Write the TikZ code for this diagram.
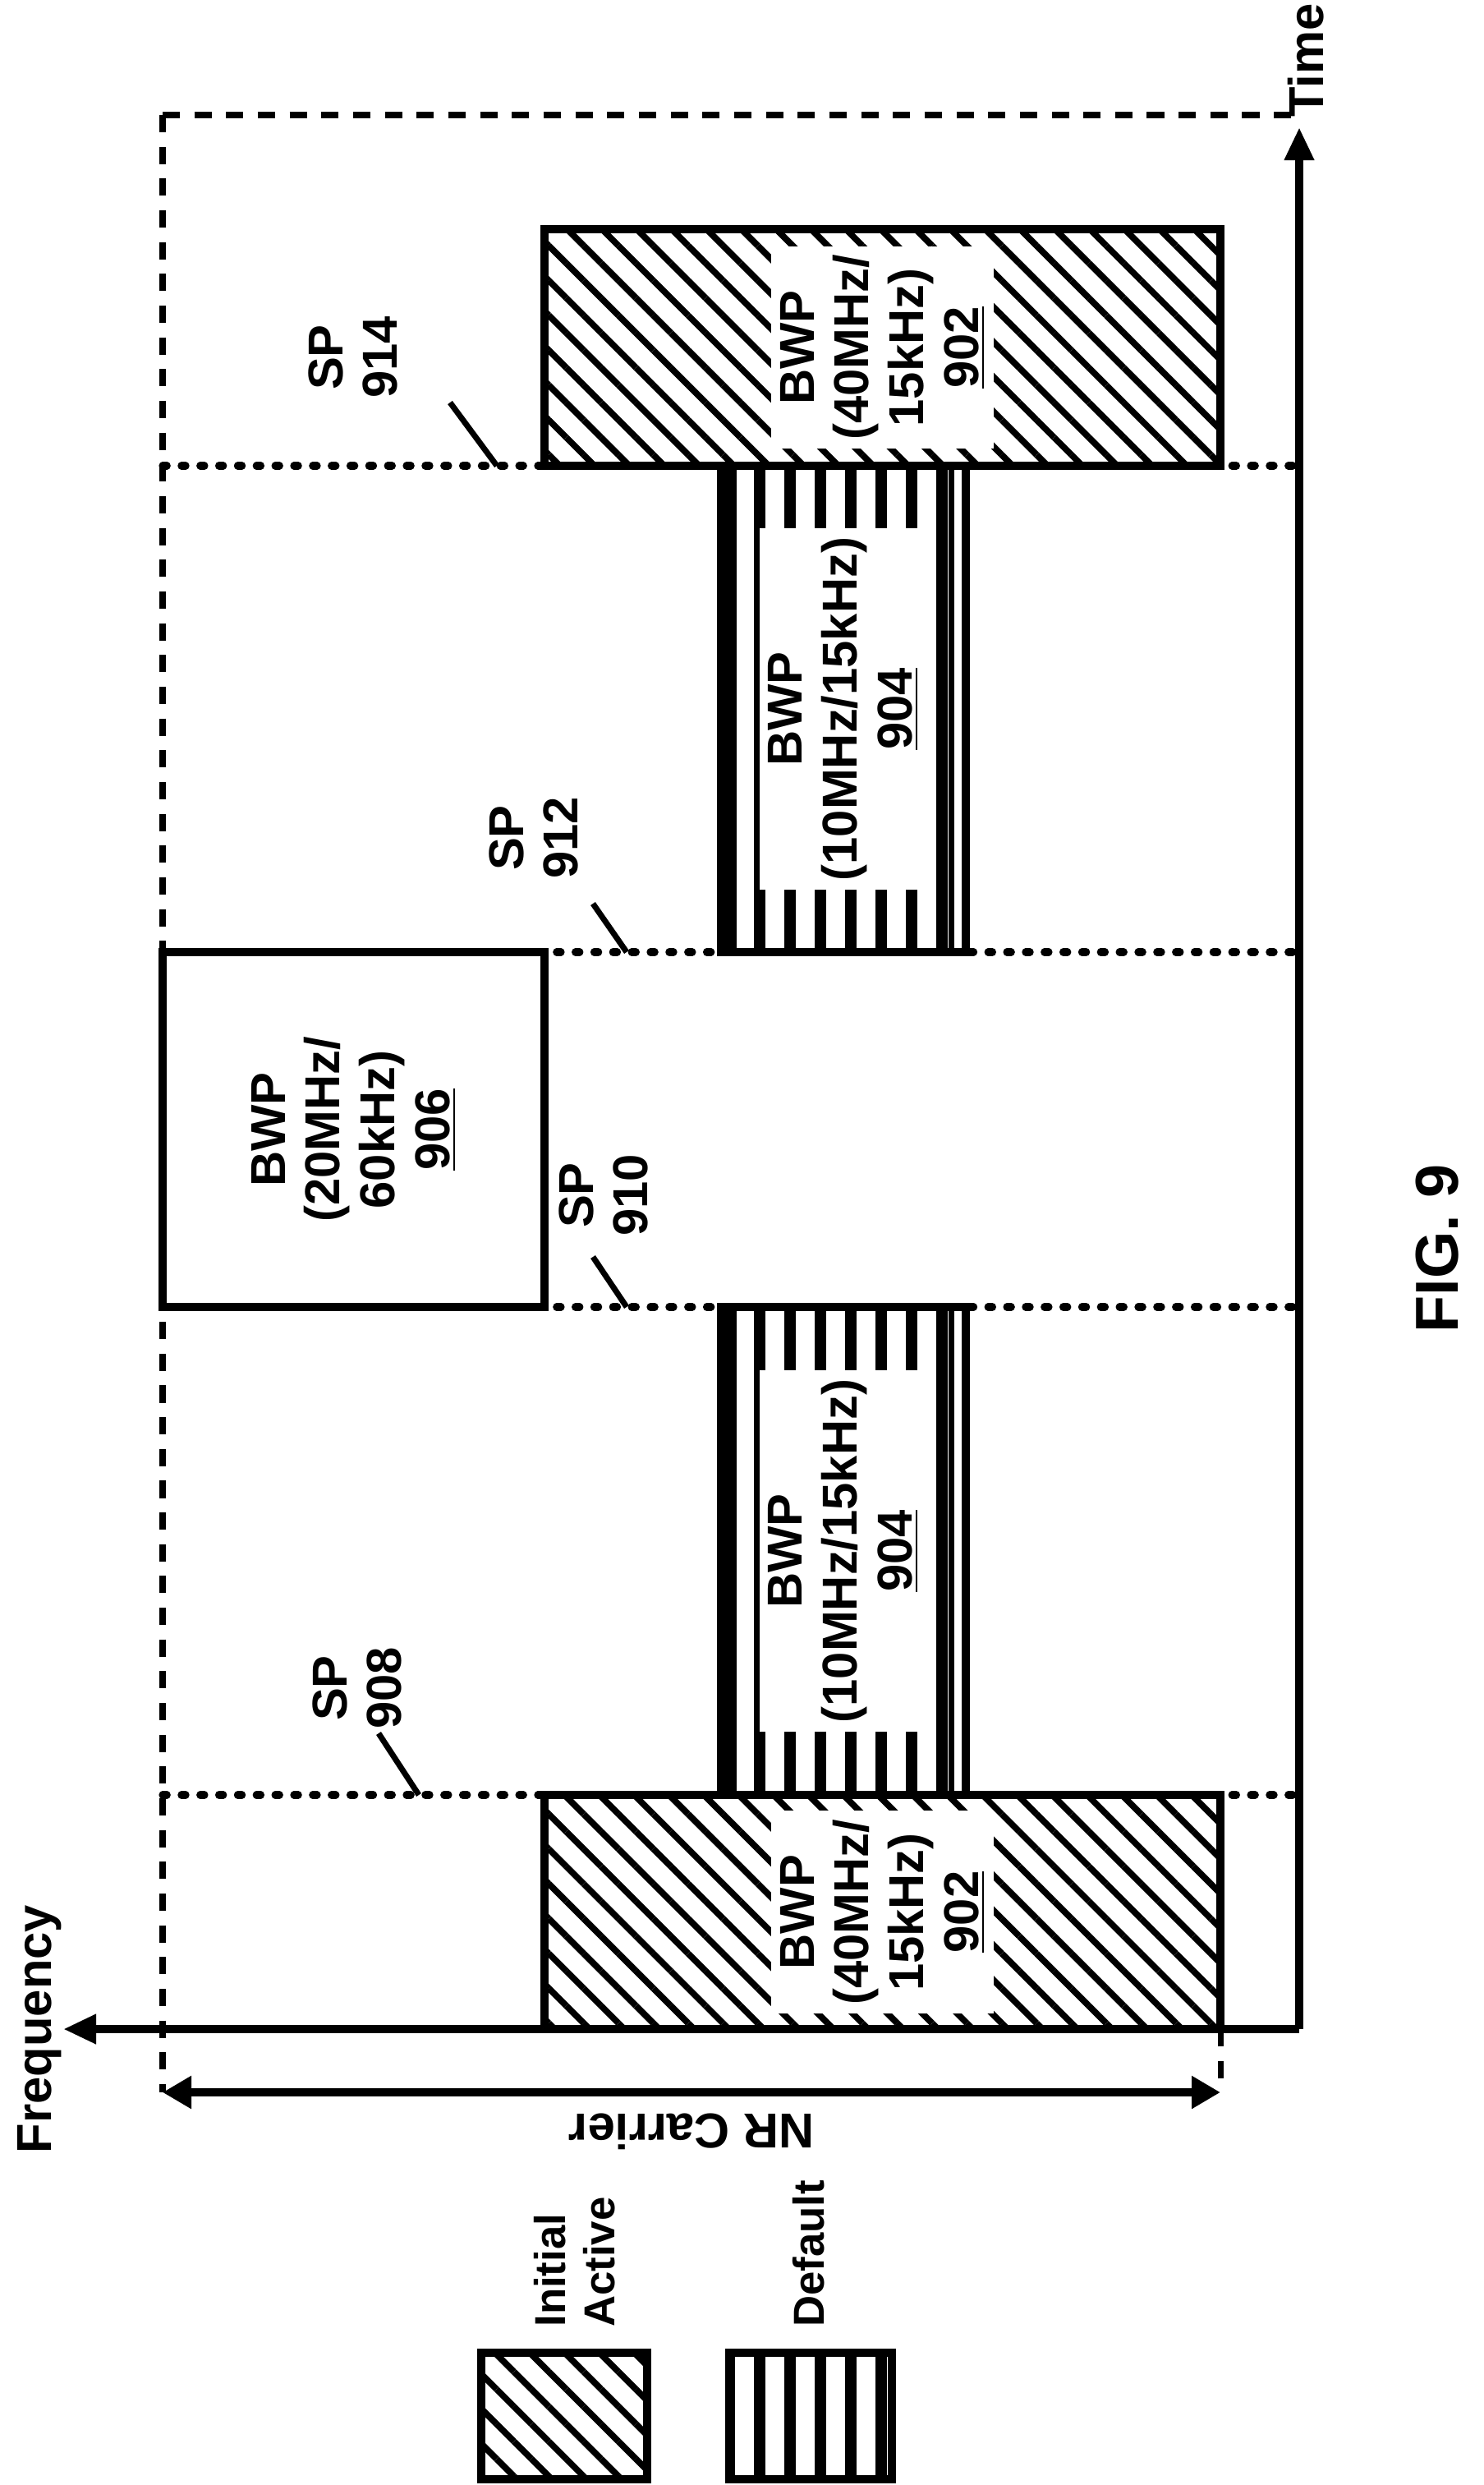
\documentclass[tikz,border=0pt]{standalone}
\usepackage{fontspec}
\setmainfont{Liberation Sans}
\usetikzlibrary{patterns.meta, arrows.meta, positioning}

\begin{document}
\begin{tikzpicture}[
    x=1cm, y=1cm,
    font=\fontsize{17}{19}\selectfont\bfseries,
    block/.style={draw, line width=2.8pt},
    initact/.style={block, pattern={Lines[angle=-45, distance=0.3cm, line width=2.2pt]}},
    default/.style={block, pattern={Lines[angle=90, distance=0.37cm, line width=4pt]}},
    lbl/.style={rotate=90, align=center, fill=white, inner sep=3pt},
    sp/.style={dash pattern=on 1.5pt off 5pt, line cap=round, line width=2.6pt},
    grid/.style={dash pattern=on 6pt off 5pt, line width=2pt},
    axis/.style={line width=2.8pt, -{Triangle[length=0.4cm, width=0.34cm]}},
    leader/.style={line width=2pt},
    legend/.style={rotate=90, anchor=west, font=\fontsize{15}{17}\selectfont\bfseries}
]
\useasboundingbox (0,0) rectangle (18.07,-30.25);

% grid lines
\draw[grid] (1.98,-1.40) -- (15.82,-1.40);
\draw[grid] (1.98,-1.40) -- (1.98,-25.47);
\draw[grid] (14.86,-24.70) -- (14.86,-25.47);
\foreach \yy in {5.67, 11.59, 15.91, 21.85}
  \draw[sp] (1.98,-\yy) -- (15.82,-\yy);

% blocks
\draw[initact] (6.63,-21.85) rectangle (14.86,-24.70) node[midway, lbl] (ia1) {BWP\\(40MHz/\\15kHz)\\\underline{902}};
\draw[default] (8.78,-15.91) rectangle (11.76,-21.85) node[midway, lbl] (df1) {BWP\\(10MHz/15kHz)\\\underline{904}};
\draw[block, fill=white] (1.98,-11.59) rectangle (6.63,-15.91) node[midway, lbl] (bw906) {BWP\\(20MHz/\\60kHz)\\\underline{906}};
\draw[default] (8.78,-5.67) rectangle (11.76,-11.59) node[midway, lbl] (df2) {BWP\\(10MHz/15kHz)\\\underline{904}};
\draw[initact] (6.63,-2.79) rectangle (14.86,-5.67) node[midway, lbl] (ia2) {BWP\\(40MHz/\\15kHz)\\\underline{902}};
\foreach \yy/\yb in {15.91/21.85, 5.67/11.59} {
  \draw[line width=3pt] (8.92,-\yy) -- (8.92,-\yb);
  \draw[line width=2pt] (11.58,-\yy) -- (11.58,-\yb);
}

% axes
\coordinate (orig) at (15.82,-24.70);
\coordinate (tend) at (15.82,-1.55);
\coordinate (fend) at (0.77,-24.70);
\draw[axis] (orig) -- (tend);
\draw[axis] (orig) -- (fend);
\node[rotate=90, anchor=west] (time) at (15.9,-1.55) {Time};
\node[rotate=90] (freq) at (0.48,-24.70) {Frequency};

% NR carrier
\coordinate (nrl) at (1.98,-25.47);
\coordinate (nrr) at (14.86,-25.47);
\draw[line width=2.8pt, {Triangle[length=0.35cm, width=0.38cm]}-{Triangle[length=0.35cm, width=0.38cm]}] (nrl) -- (nrr);
\node[rotate=180] (nr) at (8.42,-25.95) {NR Carrier};

% switching points
\node[rotate=90, align=center] (sp908) at (4.35,-20.55) {SP\\908};
\draw[leader] (4.61,-21.1) -- (5.10,-21.85);
\node[rotate=90, align=center] (sp910) at (7.35,-14.55) {SP\\910};
\draw[leader] (7.22,-15.3) -- (7.63,-15.91);
\node[rotate=90, align=center] (sp912) at (6.50,-10.20) {SP\\912};
\draw[leader] (7.22,-11.0) -- (7.63,-11.59);
\node[rotate=90, align=center] (sp914) at (4.30,-4.35) {SP\\914};
\draw[leader] (5.48,-4.90) -- (6.05,-5.67);

% figure label
\node[rotate=90, font=\fontsize{21}{23}\selectfont\bfseries] (fig) at (17.50,-15.20) {FIG. 9};

% legend
\draw[initact] (5.86,-28.64) rectangle (7.88,-30.18);
\node[legend, align=left] (lgia) at (7.0,-28.45) {Initial\\Active};
\draw[default] (8.88,-28.64) rectangle (10.86,-30.18);
\node[legend] (lgdf) at (9.85,-28.45) {Default};
\end{tikzpicture}
\end{document}
